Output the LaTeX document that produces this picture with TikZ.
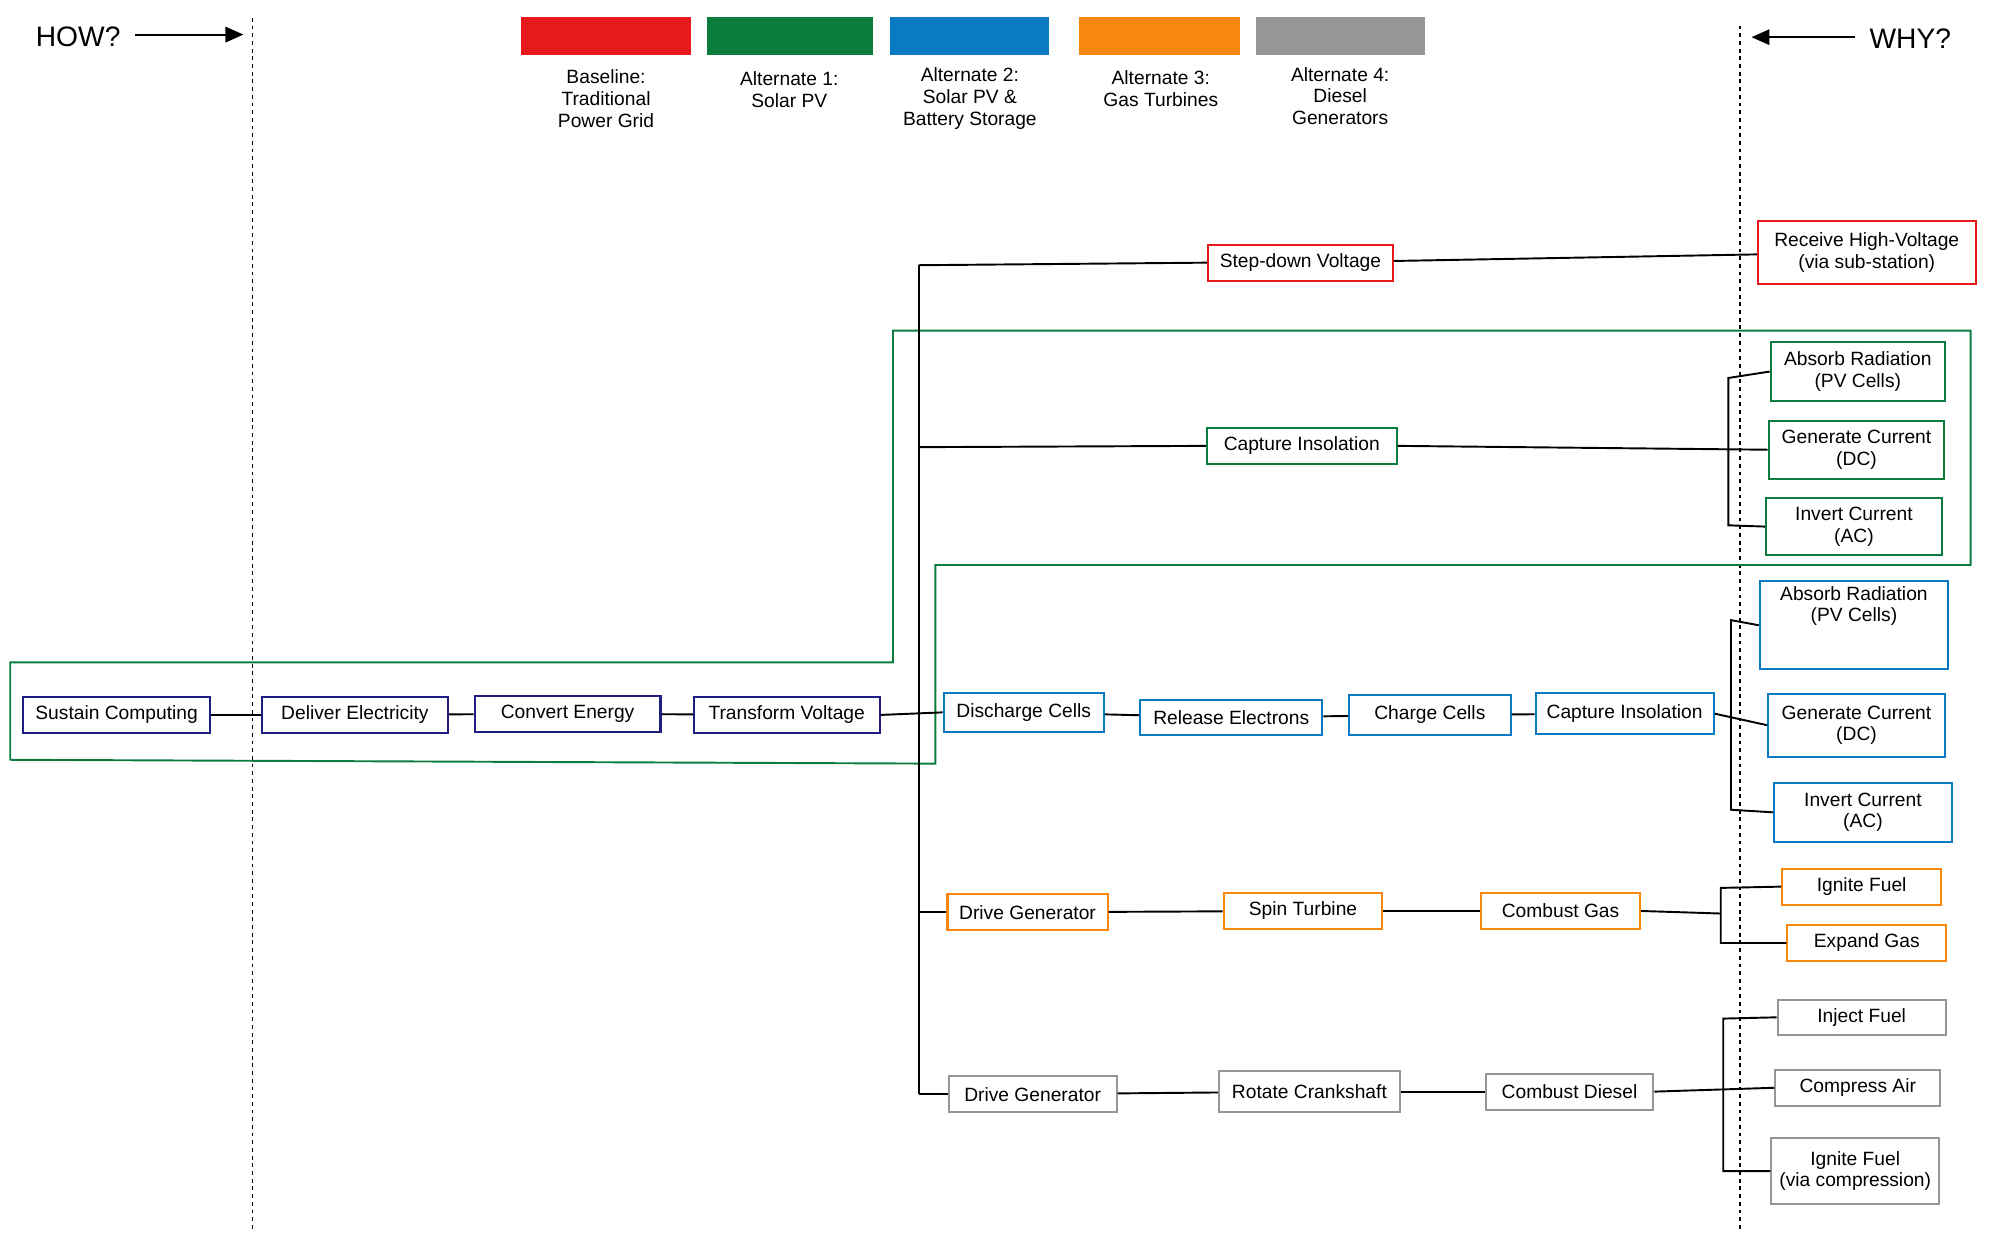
\documentclass[tikz,border=0pt]{standalone}
\usepackage{fontspec}
\setmainfont{Liberation Sans}
\usetikzlibrary{arrows.meta}
\definecolor{cnavy}{RGB}{30,30,130}
\definecolor{cred}{RGB}{232,25,28}
\definecolor{cgreen}{RGB}{10,125,62}
\definecolor{cblue}{RGB}{10,122,196}
\definecolor{corange}{RGB}{247,135,15}
\definecolor{cgray}{RGB}{150,150,150}
\begin{document}
\begin{tikzpicture}[x=1pt,y=-1pt,
  box/.style={draw,line width=1.6pt,minimum height=28pt,inner sep=2pt,align=center,font=\fontsize{15}{17}\selectfont,fill=white},
  two/.style={box,font=\fontsize{15}{17}\selectfont},
  ln/.style={line width=1.5pt},
  lab/.style={align=center,font=\fontsize{15}{17}\selectfont}]
\useasboundingbox (0,0) rectangle (1561,962);
% legend
\fill[cred] (407,13) rectangle (539,43);
\fill[cgreen] (552,13) rectangle (681,43);
\fill[cblue] (695,13) rectangle (819,43);
\fill[corange] (842,13) rectangle (968,43);
\fill[cgray] (980,13) rectangle (1112,43);
\node[lab] (l1) at (473,77) {Baseline:\\Traditional\\Power Grid};
\node[lab] (l2) at (616,70) {Alternate 1:\\Solar PV};
\node[lab] (l3) at (757,77) {Alternate 2:\\Solar PV \&\\Battery Storage};
\node[lab] (l4) at (906,69) {Alternate 3:\\Gas Turbines};
\node[lab] (l5) at (1046,75) {Alternate 4:\\Diesel\\Generators};
% how why
\node[font=\fontsize{22}{24}\selectfont] (how) at (61,29) {HOW?};
\node[font=\fontsize{22}{24}\selectfont] (why) at (1491,30) {WHY?};
\coordinate (ha) at (190,27); \coordinate (wa) at (1367,29);
\draw[ln,-{Triangle[length=14pt,width=12pt]}] (how.east)++(8,-2) -- (ha);
\draw[ln,-{Triangle[length=14pt,width=12pt]}] (why.west)++(-8,-1) -- (wa);
\draw[line width=1.2pt,dash pattern=on 3pt off 3pt] (197,14) -- (197,962);
\draw[line width=1.2pt,dash pattern=on 3pt off 3pt] (1358,20) -- (1358,962);
% green outline
\draw[cgreen,line width=1.5pt] (8,517) -- (697,517) -- (697,258) -- (1538,258) -- (1538,441) -- (730,441) -- (730,596) -- (8,593) -- cycle;
% main chain
\node[box,draw=cnavy,minimum width=146pt] (sc) at (91,558) {Sustain Computing};
\node[box,draw=cnavy,minimum width=145pt] (de) at (277,558) {Deliver Electricity};
\node[box,draw=cnavy,minimum width=145pt] (ce) at (443,557) {Convert Energy};
\node[box,draw=cnavy,minimum width=145pt] (tv) at (614,558) {Transform Voltage};
% red
\node[box,draw=cred,minimum width=144pt] (sd) at (1015,205) {Step-down Voltage};
\node[box,draw=cred,minimum width=170pt,minimum height=49pt] (rh) at (1457,197) {Receive High-Voltage\\(via sub-station)};
% green
\node[box,draw=cgreen,minimum width=148pt] (ci) at (1016,348) {Capture Insolation};
\node[box,draw=cgreen,minimum width=136pt,minimum height=46pt] (ar1) at (1450,290) {Absorb Radiation\\(PV Cells)};
\node[box,draw=cgreen,minimum width=137pt,minimum height=45pt] (gc1) at (1449,351) {Generate Current\\(DC)};
\node[box,draw=cgreen,minimum width=137pt,minimum height=45pt] (ic1) at (1447,411) {Invert Current\\(AC)};
% blue
\node[box,draw=cblue,minimum width=125pt,minimum height=30pt] (dc) at (799,556) {Discharge Cells};
\node[box,draw=cblue,minimum width=142pt] (re) at (961,560) {Release Electrons};
\node[box,draw=cblue,minimum width=126pt,minimum height=31pt] (cc) at (1116,558) {Charge Cells};
\node[box,draw=cblue,minimum width=139pt,minimum height=32pt] (ci2) at (1268,557) {Capture Insolation};
\node[box,draw=cblue,minimum width=147pt,minimum height=69pt] (ar2) at (1447,488) {Absorb Radiation\\(PV Cells)\\[16pt]};
\node[box,draw=cblue,minimum width=138pt,minimum height=49pt] (gc2) at (1449,566) {Generate Current\\(DC)};
\node[box,draw=cblue,minimum width=139pt,minimum height=46pt] (ic2) at (1454,634) {Invert Current\\(AC)};
% orange
\node[box,draw=corange,minimum width=125pt] (dg1) at (802,712) {Drive Generator};
\node[box,draw=corange,minimum width=124pt] (st) at (1017,711) {Spin Turbine};
\node[box,draw=corange,minimum width=124pt] (cg) at (1218,711) {Combust Gas};
\node[box,draw=corange,minimum width=124pt] (if1) at (1453,692) {Ignite Fuel};
\node[box,draw=corange,minimum width=124pt] (eg) at (1457,736) {Expand Gas};
% gray
\node[box,draw=cgray,minimum width=131pt] (dg2) at (806,854) {Drive Generator};
\node[box,draw=cgray,minimum width=141pt,minimum height=32pt] (rc) at (1022,852) {Rotate Crankshaft};
\node[box,draw=cgray,minimum width=131pt] (cd) at (1225,852) {Combust Diesel};
\node[box,draw=cgray,minimum width=131pt,minimum height=27pt] (inj) at (1453,794) {Inject Fuel};
\node[box,draw=cgray,minimum width=129pt] (ca) at (1450,849) {Compress Air};
\node[box,draw=cgray,minimum width=131pt,minimum height=52pt] (if2) at (1448,914) {Ignite Fuel\\(via compression)};
% connectors
\begin{scope}[on background layer/.style={}]
\draw[ln] (sc) -- (de); \draw[ln] (de) -- (ce); \draw[ln] (ce) -- (tv);
\coordinate (tt) at (717,207); \coordinate (tb) at (717,854);
\draw[ln] (tt) -- (tb);
\draw[ln] (tv.east) -- (dc.west);
\draw[ln] (tt) -- (sd.west);
\draw[ln] (717,349) -- (ci.west);
\draw[ln] (717,712) -- (dg1.west);
\draw[ln] (tb) -- (dg2.west);
\draw[ln] (sd) -- (rh);
\draw[ln] (dc) -- (re); \draw[ln] (re) -- (cc); \draw[ln] (cc) -- (ci2);
\draw[ln] (dg1) -- (st); \draw[ln] (st) -- (cg);
\draw[ln] (dg2) -- (rc); \draw[ln] (rc) -- (cd);
% brackets
\coordinate (bg) at (1349,349);
\draw[ln] (ci.east) -- (gc1.west);
\draw[ln] (ar1.west) -- (1349,295) -- (1349,410) -- (ic1.west);
\draw[ln] (ci2.east) -- (gc2.west);
\draw[ln] (ar2.west) -- (1351,484) -- (1351,632) -- (ic2.west);
\draw[ln] (cg.east) -- (1343,713);
\draw[ln] (if1.west) -- (1343,693) -- (1343,736) -- (eg.west);
\draw[ln] (cd.east) -- (ca.west);
\draw[ln] (inj.west) -- (1345,795) -- (1345,914) -- (if2.west);
\end{scope}
\end{tikzpicture}
\end{document}
